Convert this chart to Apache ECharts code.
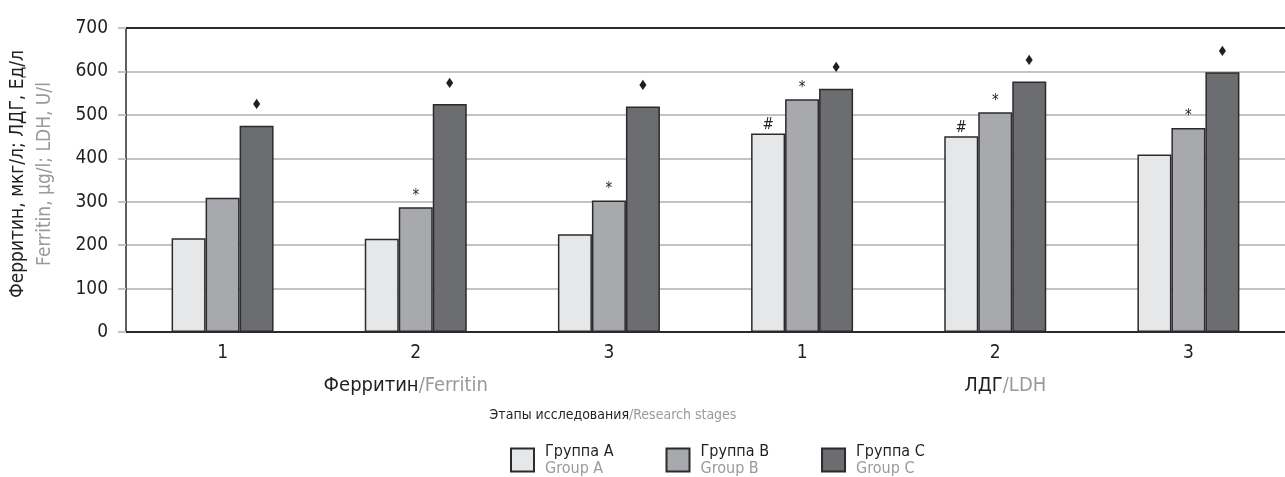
<!DOCTYPE html>
<html>
<head>
<meta charset="utf-8">
<script src="https://cdn.jsdelivr.net/npm/echarts@6/dist/echarts.min.js"></script>
<style>
  html, body { margin: 0; padding: 0; background: #fff; }
  #chart { width: 1285px; height: 477px; }
</style>
</head>
<body>
<div id="chart"></div>
<script>
// Research stages within each marker group
const stages = ['1', '2', '3', '1', '2', '3'];
const markerGroups = ['Ферритин/Ferritin', 'ЛДГ/LDH'];

// Ferritin (µg/l) for stages 1–3, then LDH (U/l) for stages 1–3
const groupA = [216, 215, 225, 457, 451, 409];
const groupB = [309, 287, 303, 536, 506, 470];
const groupC = [475, 525, 519, 560, 577, 598];

// Significance marks printed above each bar
const marksA = ['', '', '', '#', '#', ''];
const marksB = ['', '*', '*', '*', '*', '*'];
const marksC = ['♦', '♦', '♦', '♦', '♦', '♦'];

const seriesNames = [
  ['Группа A', 'Group A'],
  ['Группа B', 'Group B'],
  ['Группа C', 'Group C']
];

const FONT = '"DejaVu Sans Condensed", "DejaVu Sans", sans-serif';
const DARK = '#231f20';
const GREY_TEXT = '#9a9a9a';

function barSeries(idx, values, marks, color, labelOpts) {
  return {
    name: seriesNames[idx][0],
    type: 'bar',
    data: values,
    barWidth: 34,
    barGap: '0%',
    itemStyle: { color: color, borderColor: '#2b2b2b', borderWidth: 1.5 },
    label: Object.assign({
      show: true,
      position: 'top',
      color: DARK,
      fontFamily: FONT,
      formatter: p => marks[p.dataIndex]
    }, labelOpts),
    emphasis: { disabled: true }
  };
}

// Group caption under the stage numbers: dark Russian part, grey English part
const groupLabelRich = {
  a: { fontSize: 20, color: DARK, fontFamily: FONT },
  b: { fontSize: 20, color: GREY_TEXT, fontFamily: FONT }
};

const chart = echarts.init(document.getElementById('chart'), null, { renderer: 'canvas' });

chart.setOption({
  animation: false,
  backgroundColor: '#fff',
  textStyle: { fontFamily: FONT },
  grid: { left: 126, right: 0, top: 28, bottom: 145, containLabel: false, outerBoundsMode: 'none' },
  title: {
    text: '{a|Этапы исследования}{b|/Research stages}',
    left: 608,
    top: 403,
    textAlign: 'center',
    textStyle: {
      fontSize: 14,
      fontWeight: 'normal',
      fontFamily: FONT,
      rich: {
        a: { fontSize: 14, fontWeight: 'normal', color: DARK, fontFamily: FONT },
        b: { fontSize: 14, fontWeight: 'normal', color: GREY_TEXT, fontFamily: FONT }
      }
    }
  },
  legend: {
    left: 505,
    top: 438,
    itemWidth: 23,
    itemHeight: 23,
    itemGap: 52,
    icon: 'rect',
    selectedMode: false,
    formatter: name => {
      const pair = seriesNames.find(s => s[0] === name);
      return '{a|' + pair[0] + '}\n{b|' + pair[1] + '}';
    },
    textStyle: {
      fontSize: 16,
      lineHeight: 17,
      fontFamily: FONT,
      rich: {
        a: { fontSize: 16, color: DARK, lineHeight: 17, fontFamily: FONT, padding: [0, 0, 0, 6] },
        b: { fontSize: 16, color: GREY_TEXT, lineHeight: 17, fontFamily: FONT, padding: [0, 0, 0, 6] }
      }
    }
  },
  xAxis: [
    {
      type: 'category',
      data: stages,
      position: 'bottom',
      axisLine: { show: true, lineStyle: { color: '#2b2b2b', width: 1.5 } },
      axisTick: { show: false },
      axisLabel: { color: DARK, fontSize: 19, margin: 12, fontFamily: FONT },
      splitLine: { show: false }
    },
    {
      type: 'category',
      data: [
        { value: markerGroups[0], textStyle: { padding: [0, 20, 0, 0] } },
        { value: markerGroups[1], textStyle: { padding: [0, 0, 0, 20] } }
      ],
      position: 'bottom',
      offset: 36,
      axisLine: { show: false },
      axisTick: { show: false },
      axisLabel: {
        fontSize: 20,
        fontFamily: FONT,
        formatter: v => {
          const parts = v.split('/');
          return '{a|' + parts[0] + '}{b|/' + parts[1] + '}';
        },
        rich: groupLabelRich
      },
      splitLine: { show: false }
    }
  ],
  yAxis: {
    type: 'value',
    min: 0,
    max: 700,
    interval: 100,
    name: '{a|Ферритин, мкг/л; ЛДГ, Ед/л}\n{b|Ferritin, μg/l; LDH, U/l}',
    nameLocation: 'middle',
    nameRotate: 90,
    nameGap: 67,
    nameTextStyle: {
      fontSize: 19,
      lineHeight: 27,
      fontFamily: FONT,
      padding: [0, 0, 0, 12],
      rich: {
        a: { fontSize: 19, color: DARK, lineHeight: 27, fontFamily: FONT },
        b: { fontSize: 19, color: GREY_TEXT, lineHeight: 27, fontFamily: FONT }
      }
    },
    axisLine: { show: true, lineStyle: { color: '#2b2b2b', width: 1.5 } },
    axisTick: { show: true, length: 8, lineStyle: { color: '#c3c3c3', width: 2 } },
    axisLabel: { color: DARK, fontSize: 19, margin: 18, fontFamily: FONT },
    splitLine: {
      show: true,
      lineStyle: {
        width: 2,
        color: ['#2b2b2b', '#c3c3c3', '#c3c3c3', '#c3c3c3', '#c3c3c3', '#c3c3c3', '#c3c3c3', '#2b2b2b']
      }
    }
  },
  series: [
    barSeries(0, groupA, marksA, '#e6e7e9', { fontSize: 15, distance: 1 }),
    barSeries(1, groupB, marksB, '#a8a9ac', { fontSize: 15, distance: 4 }),
    barSeries(2, groupC, marksC, '#6c6d70', { fontSize: 14, distance: 13 })
  ]
});
</script>
</body>
</html>
